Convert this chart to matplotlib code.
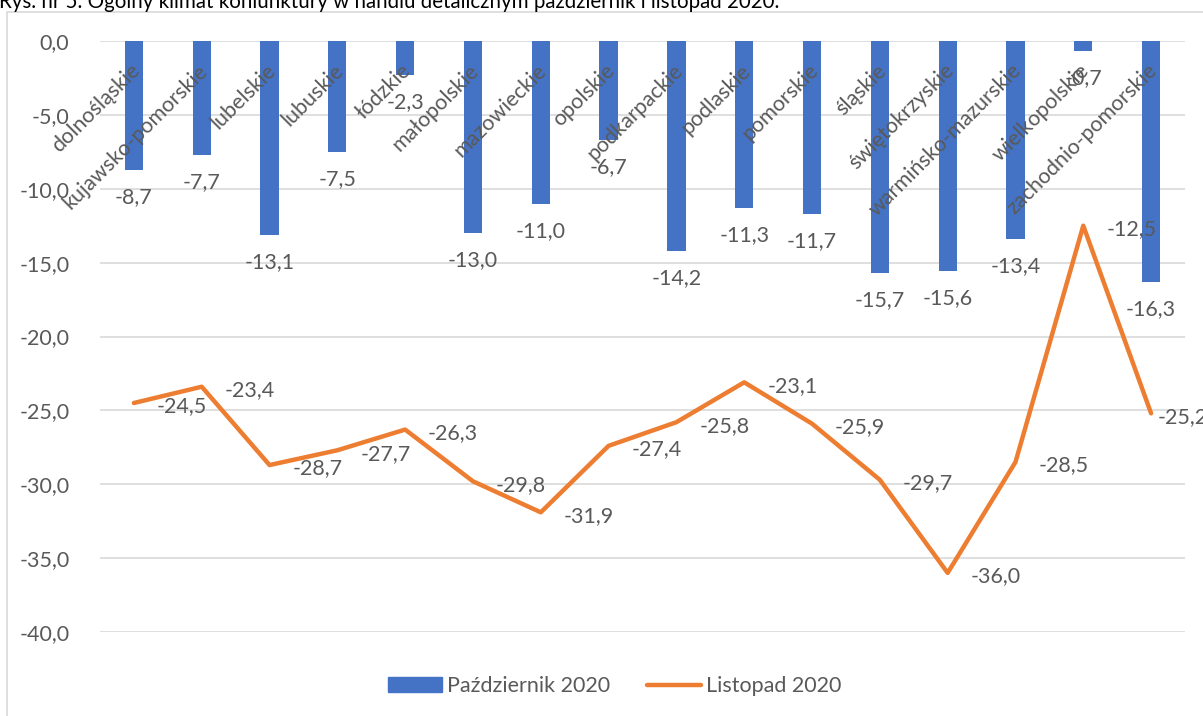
import matplotlib.pyplot as plt
from matplotlib.patches import Rectangle
from matplotlib.lines import Line2D
from matplotlib.ticker import FuncFormatter

plt.rcParams['font.family'] = ['Lato', 'DejaVu Sans']

# dane z wykresu
wojewodztwa = ['dolnośląskie', 'kujawsko-pomorskie', 'lubelskie', 'lubuskie', 'łódzkie',
               'małopolskie', 'mazowieckie', 'opolskie', 'podkarpackie', 'podlaskie',
               'pomorskie', 'śląskie', 'świętokrzyskie', 'warmińsko-mazurskie',
               'wielkopolskie', 'zachodnio-pomorskie']
pazdziernik = [-8.7, -7.7, -13.1, -7.5, -2.3, -13.0, -11.0, -6.7, -14.2, -11.3,
               -11.7, -15.7, -15.6, -13.4, -0.7, -16.3]
listopad = [-24.5, -23.4, -28.7, -27.7, -26.3, -29.8, -31.9, -27.4, -25.8, -23.1,
            -25.9, -29.7, -36.0, -28.5, -12.5, -25.2]
y_ticks = [0, -5, -10, -15, -20, -25, -30, -35, -40]

BLUE = '#4472C4'
ORANGE = '#ED7D31'
TXT = '#595959'
GRID = '#D9D9D9'
FS = 15.5


def pl(v):
    return '{:.1f}'.format(v).replace('.', ',')


fig = plt.figure(figsize=(12.03, 7.16), dpi=100)
W, H = 1203, 716

# ramka obszaru wykresu
fig.patches.append(Rectangle((7 / W, -0.1), 1.2, 1.1 - 12 / H, transform=fig.transFigure,
                             fill=False, edgecolor=GRID, linewidth=1.2))

fig.text(-1 / W, 1 - 8 / H,
         'Rys. nr 5. Ogólny klimat koniunktury w handlu detalicznym październik i listopad 2020.',
         fontsize=14.8, color='black', ha='left', va='baseline')

ax = fig.add_axes([100 / W, 1 - 632 / H, 1085 / W, 591 / H])
x = list(range(len(wojewodztwa)))

ax.bar(x, pazdziernik, width=0.27, color=BLUE, zorder=2, label='Październik 2020')
ax.plot(x, listopad, color=ORANGE, linewidth=3.2, solid_joinstyle='round',
        solid_capstyle='round', zorder=3, label='Listopad 2020')

ax.set_xlim(-0.5, len(x) - 0.5)
ax.set_ylim(-40, 0)
ax.set_yticks(y_ticks)
ax.yaxis.set_major_formatter(FuncFormatter(lambda v, p: pl(v)))
ax.tick_params(axis='y', length=0, pad=22, labelsize=FS, labelcolor=TXT)
ax.set_xticks([])
ax.grid(axis='y', color=GRID, linewidth=1.2, zorder=0)
for s in ax.spines.values():
    s.set_visible(False)

# etykiety kategorii pod osia (os przy 0)
for i, name in enumerate(wojewodztwa):
    ax.annotate(name, (i, 0), xytext=(-3, -14), textcoords='offset points',
                rotation=45, rotation_mode='anchor', ha='right', va='top',
                fontsize=FS, color=TXT, zorder=4)

for i, v in enumerate(pazdziernik):
    ax.annotate(pl(v), (i, v), xytext=(0, -19.5), textcoords='offset points',
                ha='center', va='center', fontsize=FS, color=TXT, zorder=4)

for i, v in enumerate(listopad):
    dx = 16.5 if i < len(listopad) - 1 else 5
    ax.annotate(pl(v), (i, v), xytext=(dx, -2.5), textcoords='offset points',
                ha='left', va='center', fontsize=FS, color=TXT, zorder=4)

handles = [Rectangle((0, 0), 1, 1, color=BLUE),
           Line2D([0], [0], color=ORANGE, linewidth=3.2, solid_capstyle='round')]
fig.legend(handles, ['Październik 2020', 'Listopad 2020'], loc='center',
           bbox_to_anchor=(615 / W, 1 - 686 / H), ncol=2, frameon=False,
           fontsize=FS, labelcolor=TXT, handlelength=2.5, handleheight=0.65,
           handletextpad=0.25, columnspacing=1.7)

fig.savefig('out.png', dpi=100)
